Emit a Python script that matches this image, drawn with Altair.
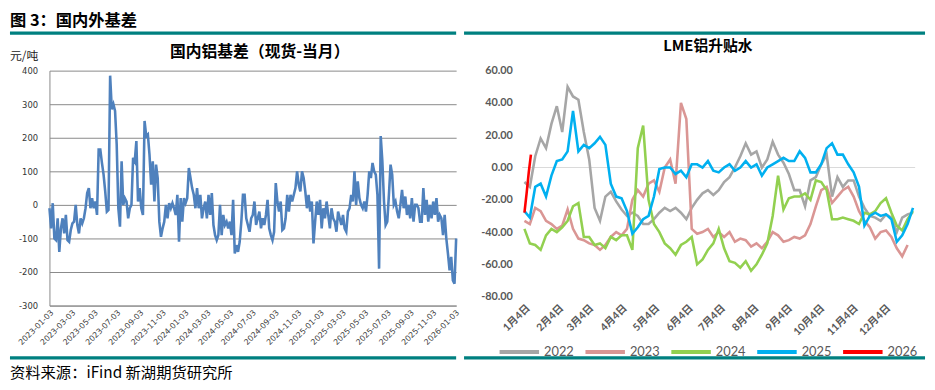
import altair as alt
import pandas as pd

CJK = "Noto Sans CJK SC"
TEAL = "#008080"

# ---------------- left panel: domestic basis (元/吨) ----------------
left_start, left_end = "2023-01-03", "2026-01-06"
left_values = [
    -10, -70, 5, -100, -105, -40, -140, -70, -40, -85, -30, -105, -110, -75, -55, -50,
    0, -60, -85, -40, -55, -40, -10, 35, 50, -10, 20, -10, 10, -30, 165, 165,
    125, 90, 40, -20, -15, 385, 285, 300, 280, 180, -10, -65, 130, 0, 20, 10,
    -40, -10, 0, 140, 130, 190, 10, 50, -10, -30, 250, 205, 210, 150, 60, 130,
    10, 120, 80, -50, -95, -70, -50, 0, -40, 5, -10, 5, -10, -30, 30, -110,
    20, -50, 20, 5, 20, 110, 80, 50, 30, -10, 50, -10, 30, -40, -10, 10,
    -40, 30, -30, 35, -60, -90, -105, -90, 0, -90, -30, -60, -50, -70, -50, -90,
    15, -145, -120, -140, -110, -50, 30, 30, -40, -60, -80,
    -40, -30, 10, -60, -40, -20, -70, -40, -60, -30, 15, -70, -90, -105, -80, 65,
    10, -20, 10, -75, -70, -40, 30, -20, 30, 10, 30, 50, 100, 60, 40, 100,
    80, 40, -10, 30, -20, 10, -115, -50, 10, -30, 15, -70, -10, -40, 10, -30,
    -70, -10, -40, -50, -80, -20, -40, -60, -30, -70, -80, -20, -10, 30, 10, 100,
    0, 70, 20, 0, -10, 10, -20, 30, 100, 80, 125, 100, 90, 30, -190, 205,
    130, 10, -60, -50, 30, 120, 90, 0, 10, -20, -40, 0, 45, -10, 25, -30,
    0, -40, 20, -50, 0, 0, -10, -50, -50, 50, -30, 15, -50, 0, -40, 10,
    -30, 20, -50, -30, -40, -90, -30, -100, -145, -195, -155, -225, -235, -100,
]
left_ticks = [
    "2023-01-03", "2023-03-03", "2023-05-03", "2023-07-03", "2023-09-03", "2023-11-03",
    "2024-01-03", "2024-03-03", "2024-05-03", "2024-07-03", "2024-09-03", "2024-11-03",
    "2025-01-03", "2025-03-03", "2025-05-03", "2025-07-03", "2025-09-03", "2025-11-03",
    "2026-01-03",
]
left_yticks = [-300, -200, -100, 0, 100, 200, 300, 400]

# ---------------- right panel: LME aluminium spread ----------------
season_years = ["2022", "2023", "2024", "2025", "2026"]
season_colors = ["#a6a6a6", "#da9694", "#92d050", "#00b0f0", "#ff0000"]
s2022 = [
    -9, -12, 7, 18, 12, 27, 38, 22, 50, 44, 42, 22, 5, -25, -33, -18, -15, -21, -26, -30,
    -28, -30, -35, -35, -32, -28, -25, -27, -25, -28, -32, -25, -20, -16, -14, -17, -14, -9,
    -6, 0, 7, 15, 8, 10, 0, 5, 16, 8, 3, -4, -14, -14, -24, -8, -6, 2, 8, -18, -6, -12,
    -8, -8, -18, -25, -30, -31, -33, -29, -31, -40, -31, -29, -28,
]
s2023 = [
    -33, -35, -25, -27, -33, -35, -38, -36, -26, -38, -44, -45, -47, -48, -51, -48, -43, -40,
    -42, -38, -20, -14, -18, -10, -8, -15, 0, 5, -10, 40, 30, -38, -41, -40, -38, -43, -40,
    -43, -40, -46, -44, -45, -49, -47, -50, -46, -40, -42, -46, -45, -43, -44, -42, -35, -24,
    -14, -12, -22, -18, -14, -12, -18, -27, -33, -37, -44, -40, -39, -43, -50, -55, -48,
]
s2024 = [
    -38, -47, -48, -51, -42, -38, -40, -37, -33, -24, -22, -43, -43, -48, -47, -50, -43, -45,
    -42, -42, -51, 12, 26, -20, -35, -40, -47, -50, -54, -48, -46, -43, -60, -57, -51, -47,
    -38, -50, -58, -59, -62, -58, -64, -60, -54, -47, -30, -5, -26, -19, -18, -18, -16, -20,
    -8, -9, -14, -32, -32, -31, -32, -33, -35, -28, -29, -27, -22, -19, -28, -36, -39, -32, -27,
]
s2025 = [
    -27, -31, -12, -10, -18, -5, 4, 5, 10, 35, 10, 14, 12, 15, 19, 14, -10, -18, -19, -27,
    -41, -37, -32, -30, -18, -1, 0, 0, -4, -2, -6, 2, 2, 0, 4, -2, -3, 0, 2, -2, 0, 4, 0,
    2, -5, 0, 2, 4, 6, 4, 4, 10, 6, -3, -3, 2, 12, 15, 8, 8, 2, -3, -12, -36, -30, -28, -30,
    -29, -32, -46, -42, -35, -25,
]
s2026_dates = ["2021-01-04", "2021-01-06", "2021-01-08", "2021-01-10"]
s2026 = [-28, -16, -3, 8]
month_ticks = list(range(1, 13))
right_yticks = [-80, -60, -40, -20, 0, 20, 40, 60]

# ---------------- tables ----------------
left_df = pd.DataFrame({
    "date": pd.date_range(left_start, left_end, periods=len(left_values)),
    "basis": left_values,
})

rows = []
for yr, vals in zip(season_years[:4], [s2022, s2023, s2024, s2025]):
    dates = pd.date_range("2021-01-04", periods=len(vals), freq="5D")
    rows.append(pd.DataFrame({"date": dates, "year": yr, "value": vals}))
rows.append(pd.DataFrame({"date": pd.to_datetime(s2026_dates), "year": "2026", "value": s2026}))
season_df = pd.concat(rows, ignore_index=True)


def dt(s):
    return alt.DateTime(year=int(s[:4]), month=int(s[5:7]), date=int(s[8:10]))


dummy = alt.Data(values=[{"k": 1}])
GRID = "#898989"
minus_expr = "(datum.value < 0 ? '-' : '') + abs(datum.value)"

# layout constants (pixels relative to each panel's plot origin)
LW, LH = 412, 238
RW, RH = 398, 229
L_EDGE = -40          # left edge of the whole figure relative to left plot
R_EDGE = -59          # left edge of right panel relative to right plot
R_END = 408           # right end of figure relative to right plot
TOP = -61
HEAD_RULE_Y = -38
FOOT_RULE_Y = 291


def teal_rule(x1, x2, y):
    return alt.Chart(dummy).mark_rule(color=TEAL, strokeWidth=3.5).encode(
        x=alt.value(x1), x2=alt.value(x2), y=alt.value(y)
    )


def spacer(y):
    return alt.Chart(dummy).mark_rule(opacity=0).encode(
        x=alt.value(0), x2=alt.value(5), y=alt.value(y)
    )


# ---------------- left chart ----------------
left_line = alt.Chart(left_df).mark_line(color="#4f81bd", strokeWidth=2.6).encode(
    x=alt.X(
        "date:T",
        scale=alt.Scale(domain=[dt(left_start), dt(left_end)]),
        axis=alt.Axis(
            values=[dt(s) for s in left_ticks], format="%Y-%m-%d", labelAngle=-45,
            labelFont="DejaVu Sans", labelFontSize=8, labelColor="#404040",
            labelOverlap=False, labelPadding=3, ticks=False, grid=False,
            domainColor=GRID, title=None,
        ),
    ),
    y=alt.Y(
        "basis:Q",
        scale=alt.Scale(domain=[-300, 400], nice=False),
        axis=alt.Axis(
            values=left_yticks, labelExpr=minus_expr, labelFont="DejaVu Sans",
            labelFontSize=8.5, labelColor="#333333", labelPadding=12, ticks=False,
            grid=True, gridColor=GRID, domainColor=GRID, title=None,
        ),
    ),
)
left_title = alt.Chart(dummy).mark_text(
    text="国内铝基差（现货-当月）", font=CJK, fontSize=16, fontWeight="bold", color="#000000",
    baseline="middle", align="center",
).encode(x=alt.value(213), y=alt.value(-19))
left_unit = alt.Chart(dummy).mark_text(
    text="元/吨", font=CJK, fontSize=12, color="#222222", baseline="middle", align="left",
).encode(x=alt.value(L_EDGE), y=alt.value(-15))
header_text = alt.Chart(dummy).mark_text(
    text="图 3：国内外基差", font=CJK, fontSize=16.5, fontWeight="bold", color="#000000",
    align="left", baseline="middle",
).encode(x=alt.value(L_EDGE), y=alt.value(-50))
footer_text = alt.Chart(dummy).mark_text(
    text="资料来源：iFind 新湖期货研究所", font=CJK, fontSize=15.5, color="#000000",
    align="left", baseline="middle",
).encode(x=alt.value(L_EDGE), y=alt.value(FOOT_RULE_Y + 15))

left = alt.layer(
    left_line, left_title, left_unit, header_text, footer_text,
    teal_rule(L_EDGE, LW, HEAD_RULE_Y), teal_rule(L_EDGE, LW, FOOT_RULE_Y), spacer(TOP),
).properties(width=LW, height=LH)

# ---------------- right chart ----------------
right_y_scale = alt.Scale(domain=[-80, 60], nice=False)
right_y_axis = alt.Axis(
    values=right_yticks,
    labelExpr="(datum.value < 0 ? '-' : '') + format(abs(datum.value), '.2f')",
    labelFont="Lato", labelFontWeight="bold", labelFontSize=11, labelColor="#595959",
    labelPadding=10, domain=False, ticks=False, grid=False, title=None,
)
right_lines = alt.Chart(season_df).mark_line().encode(
    x=alt.X(
        "date:T",
        scale=alt.Scale(domain=[dt("2021-01-02"), dt("2022-01-01")]),
        axis=alt.Axis(
            values=[alt.DateTime(year=2021, month=m, date=4) for m in month_ticks],
            labelExpr="(month(datum.value) + 1) + '月' + date(datum.value) + '日'",
            labelAngle=-45, labelFont="Lato, " + CJK, labelFontWeight="bold",
            labelFontSize=10.5, labelColor="#595959", labelOverlap=False, labelPadding=6,
            domain=False, ticks=False, grid=False, title=None,
        ),
    ),
    y=alt.Y("value:Q", scale=right_y_scale, axis=right_y_axis),
    color=alt.Color(
        "year:N",
        scale=alt.Scale(domain=season_years, range=season_colors),
        legend=alt.Legend(
            orient="none", legendX=-25, legendY=263, direction="horizontal", title=None,
            symbolType="stroke", symbolSize=1600, symbolStrokeWidth=4,
            labelFont="Lato", labelFontSize=13, labelColor="#595959",
            labelOffset=3, columnPadding=3, padding=0,
        ),
    ),
    strokeWidth=alt.StrokeWidth(
        "year:N", scale=alt.Scale(domain=season_years, range=[2.6, 2.6, 2.6, 2.6, 4]), legend=None
    ),
)
zero_rule = alt.Chart(pd.DataFrame({"zero": [0]})).mark_rule(color="#d9d9d9", strokeWidth=1).encode(
    y=alt.Y("zero:Q", scale=right_y_scale, axis=right_y_axis)
)
right_title = alt.Chart(dummy).mark_text(
    text="LME铝升贴水", font=CJK, fontSize=15, fontWeight="bold", color="#000000",
    baseline="middle", align="center",
).encode(x=alt.value(188), y=alt.value(-25))

right = alt.layer(
    zero_rule, right_lines, right_title,
    teal_rule(R_EDGE, R_END, HEAD_RULE_Y), teal_rule(R_EDGE, R_END, FOOT_RULE_Y), spacer(TOP),
).properties(width=RW, height=RH)

chart = alt.hconcat(left, right, spacing=0).resolve_legend(color="independent").properties(
    padding={"left": 0, "top": 0, "right": 0, "bottom": 0}, background="white"
).configure_view(stroke=None)

chart.save("out.html", embed_options={"renderer": "svg", "actions": False})
